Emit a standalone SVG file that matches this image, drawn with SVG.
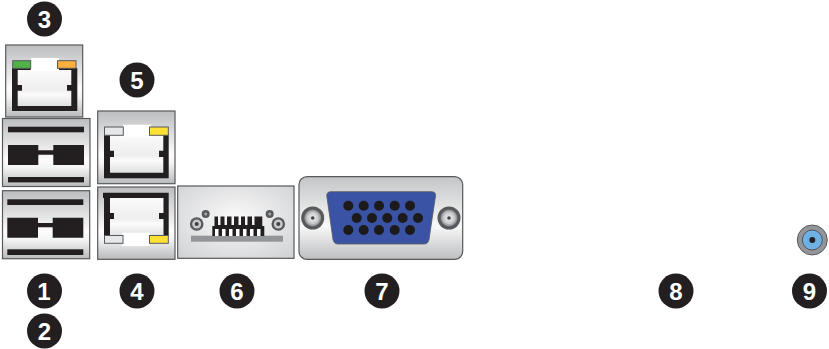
<svg xmlns="http://www.w3.org/2000/svg" width="829" height="349" viewBox="0 0 829 349">
<style>
.num{font-family:"Liberation Sans",Arial,sans-serif;font-weight:700;font-size:24px;fill:#fff;text-anchor:middle}
.badge{fill:#231f20}
.pnl{fill:url(#panel);stroke:#58595b;stroke-width:1.2}
.blk{fill:#231f20}
.tab{fill:#fff}
.in{fill:url(#jack)}
.led{stroke:#58595b;stroke-width:1}
.hole{fill:#1c1a1b}
</style>
<defs>
<linearGradient id="panel" x1="0" y1="0" x2="0" y2="1">
<stop offset="0" stop-color="#bcbdbf"/><stop offset=".6" stop-color="#fcfcfc"/><stop offset=".72" stop-color="#f4f4f4"/><stop offset="1" stop-color="#b9babc"/>
</linearGradient>
<linearGradient id="panel2" x1="0" y1="0" x2="0" y2="1">
<stop offset="0" stop-color="#c4c5c7"/><stop offset=".6" stop-color="#f8f8f8"/><stop offset="1" stop-color="#bdbec0"/>
</linearGradient>
<linearGradient id="jack" x1="0" y1="0" x2="0" y2="1">
<stop offset="0" stop-color="#fbfbfb"/><stop offset=".55" stop-color="#eeeeef"/><stop offset=".68" stop-color="#fbfbfb"/><stop offset="1" stop-color="#dfe0e1"/>
</linearGradient>
<radialGradient id="pcb" cx=".5" cy=".45" r=".7">
<stop offset="0" stop-color="#fafafa"/><stop offset="1" stop-color="#d2d3d5"/>
</radialGradient>
<radialGradient id="scr"><stop offset="0" stop-color="#f2f2f2"/><stop offset=".65" stop-color="#c8c9cb"/><stop offset="1" stop-color="#808285"/></radialGradient>
</defs>

<g id="connectors"></g>

<g id="lan-ipmi">
<rect class="pnl" x="5.700" y="45" width="77" height="72"/>
<rect class="blk" x="12" y="68" width="65.300" height="43"/>
<path class="in" d="M17.700 70H71.300V85H67V90.700H71.300V106H17.700V90.700H22V85H17.700Z"/>
<rect class="tab" x="30.700" y="58" width="28.300" height="13"/>
<rect class="led" x="12.700" y="60.700" width="18" height="7.600" fill="#4fb348"/>
<rect class="led" x="57.500" y="60.700" width="18.500" height="7.600" fill="#fbb03b"/>
</g>

<g id="usb-1">
<rect class="pnl" x="2.500" y="118.500" width="87.500" height="68"/>
<rect class="blk" x="8" y="126.700" width="76" height="5.600"/>
<rect class="blk" x="8" y="177" width="76" height="5.400"/>
<path class="blk" d="M8 145H38.300V150.300H53.300V145H84V165H53.300V154.700H38.300V165H8Z"/>
</g>

<g id="usb-2">
<rect class="pnl" x="2.500" y="190.700" width="87.200" height="68"/>
<rect class="blk" x="7.300" y="199.300" width="76" height="5.700"/>
<rect class="blk" x="7.300" y="249.300" width="76" height="5.700"/>
<path class="blk" d="M7.300 217.700H38V223H52.700V217.700H83.300V237.700H52.700V227.300H38V237.700H7.300Z"/>
</g>

<g id="lan-1">
<rect class="pnl" x="97.700" y="187" width="77.300" height="72.300"/>
<path class="blk" d="M103 192.700H168.700V236H163.300V219H159V213H163.300V198H110V213H114V219H110V236H104V198H103Z"/>
<path class="in" d="M110 198H163.300V213H159V219H163.300V236H110V219H114V213H110Z"/>
<rect class="tab" x="122" y="232.700" width="28" height="13.300"/>
<rect class="led" x="104.500" y="235.500" width="18.500" height="7.800" fill="#e6e7e8"/>
<rect class="led" x="149.500" y="235.500" width="18.800" height="7.800" fill="#ffe135" stroke="#231f20"/>
</g>

<g id="lan-2">
<rect class="pnl" x="97.700" y="111" width="77.300" height="72.700"/>
<rect class="blk" x="104" y="134" width="64.700" height="44.300"/>
<path class="in" d="M110 134H163.300V150.700H159V157H163.300V172.700H110V157H114V150.700H110Z"/>
<rect class="tab" x="123" y="124.700" width="28" height="12"/>
<rect class="led" x="104.500" y="127" width="18.800" height="8.300" fill="#e6e7e8"/>
<rect class="led" x="149.500" y="127" width="18.800" height="8.300" fill="#ffe135" stroke="#231f20"/>
</g>

<g id="ipmi-port">
<rect x="177.700" y="186" width="116.300" height="72.300" fill="url(#pcb)" stroke="#58595b" stroke-width="1.200"/>
<rect x="191" y="235.700" width="92" height="6" fill="#939598"/>
<path class="blk" d="M214.500 216.500H218V225H220.500V216.500H224.500V225H227V216.500H231.500V225H234V216.500H238.500V225H241V216.500H245V225H247.500V216.500H252V225H254.500V216.500H262.300V226H264.300V236H212.300V226H214.500Z"/>
<g fill="#fff">
<rect x="215" y="229" width="3.500" height="7"/><rect x="222" y="229" width="3.500" height="7"/><rect x="229" y="229" width="3.500" height="7"/><rect x="236" y="229" width="3.500" height="7"/><rect x="243" y="229" width="3.500" height="7"/><rect x="250" y="229" width="3.500" height="7"/><rect x="257" y="229" width="3.500" height="7"/>
</g>
<circle cx="196.700" cy="224" r="6.800" fill="#58595b"/><circle cx="196.700" cy="224" r="4.500" fill="#c8c9cb"/><circle cx="196.700" cy="224" r="2" fill="#414042"/>
<circle cx="278.300" cy="224" r="6.800" fill="#58595b"/><circle cx="278.300" cy="224" r="4.500" fill="#c8c9cb"/><circle cx="278.300" cy="224" r="2" fill="#414042"/>
<circle cx="205.700" cy="214" r="4" fill="#58595b"/><circle cx="205.700" cy="214" r="1.500" fill="#a7a9ac"/>
<circle cx="269.700" cy="214" r="4" fill="#58595b"/><circle cx="269.700" cy="214" r="1.500" fill="#a7a9ac"/>
</g>

<g id="vga">
<rect x="299" y="176.700" width="163.700" height="82.600" rx="8" fill="url(#panel2)" stroke="#58595b" stroke-width="1.200"/>
<path d="M331 191.700H431.500Q436 191.700 435.500 196L429 239.500Q428 244 424 244H338Q334 244 333 239.500L326.800 196Q326.500 191.700 331 191.700Z" fill="#3a53a4" stroke="#58595b" stroke-width=".8"/>
<g class="hole">
<circle cx="348.300" cy="205.700" r="5"/><circle cx="363.700" cy="205.700" r="5"/><circle cx="379" cy="205.700" r="5"/><circle cx="394.700" cy="205.700" r="5"/><circle cx="410" cy="205.700" r="5"/>
<circle cx="356.700" cy="218" r="5"/><circle cx="372" cy="218" r="5"/><circle cx="387.300" cy="218" r="5"/><circle cx="402.700" cy="218" r="5"/><circle cx="418" cy="218" r="5"/>
<circle cx="348.300" cy="230" r="5"/><circle cx="363.700" cy="230" r="5"/><circle cx="379" cy="230" r="5"/><circle cx="394.700" cy="230" r="5"/><circle cx="410" cy="230" r="5"/>
</g>
<circle cx="312.700" cy="218" r="11.500" fill="#58595b"/><circle cx="312.700" cy="218" r="8.500" fill="url(#scr)"/><circle cx="312.700" cy="218" r="1.800" fill="#414042"/>
<circle cx="449" cy="218" r="11.500" fill="#58595b"/><circle cx="449" cy="218" r="8.500" fill="url(#scr)"/><circle cx="449" cy="218" r="1.800" fill="#414042"/>
</g>

<g id="uid-led">
<circle cx="812.300" cy="240" r="15" fill="#939598" stroke="#58595b" stroke-width="1"/>
<circle cx="812.300" cy="240" r="10" fill="#6fb0e3" stroke="#414042" stroke-width=".8"/>
<circle cx="812.300" cy="240" r="3" fill="#231f20"/>
</g>

<g id="badge-1"><circle class="badge" cx="44.500" cy="291" r="17.500"/><text class="num" x="44" y="299.500">1</text></g>
<g id="badge-2"><circle class="badge" cx="44.500" cy="331" r="17.500"/><text class="num" x="44.500" y="339.500">2</text></g>
<g id="badge-3"><circle class="badge" cx="44.500" cy="19" r="17.500"/><text class="num" x="44.500" y="27.500">3</text></g>
<g id="badge-4"><circle class="badge" cx="137" cy="291" r="17.500"/><text class="num" x="137" y="299.500">4</text></g>
<g id="badge-5"><circle class="badge" cx="137" cy="80" r="17.500"/><text class="num" x="137" y="88.500">5</text></g>
<g id="badge-6"><circle class="badge" cx="237" cy="291" r="17.500"/><text class="num" x="237" y="299.500">6</text></g>
<g id="badge-7"><circle class="badge" cx="382" cy="291" r="17.500"/><text class="num" x="382" y="299.500">7</text></g>
<g id="badge-8"><circle class="badge" cx="676" cy="291" r="17.500"/><text class="num" x="676" y="299.500">8</text></g>
<g id="badge-9"><circle class="badge" cx="809.500" cy="291" r="17.500"/><text class="num" x="809.500" y="299.500">9</text></g>
</svg>
